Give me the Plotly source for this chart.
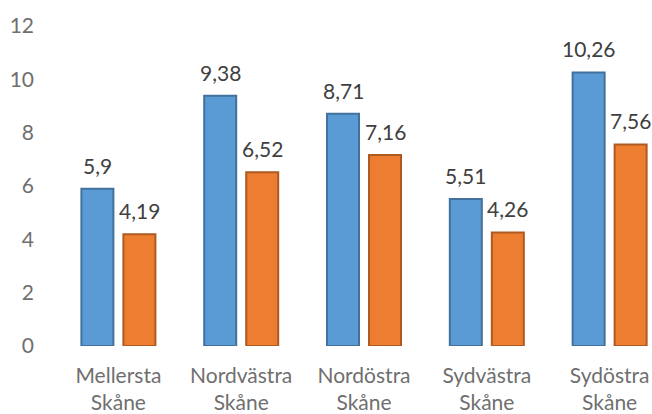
import plotly.graph_objects as go

# Regions and the two series of values
regions = ["Mellersta<br>Skåne", "Nordvästra<br>Skåne", "Nordöstra<br>Skåne",
           "Sydvästra<br>Skåne", "Sydöstra<br>Skåne"]
series_a = [5.9, 9.38, 8.71, 5.51, 10.26]
series_b = [4.19, 6.52, 7.16, 4.26, 7.56]
y_ticks = [0, 2, 4, 6, 8, 10, 12]


def fmt(v):
    # Swedish decimal comma
    return f"{v:g}".replace(".", ",")


font_family = "Lato, 'Open Sans', sans-serif"
label_font = dict(size=21, color="#404040", family=font_family)
axis_font = dict(size=21, color="#6f6f6f", family=font_family)

fig = go.Figure()
fig.add_trace(go.Bar(
    x=regions, y=series_a,
    marker=dict(color="#5B9BD5", line=dict(color="#41719C", width=2)),
))
fig.add_trace(go.Bar(
    x=regions, y=series_b,
    marker=dict(color="#ED7D31", line=dict(color="#AE5A21", width=2)),
))

# Value labels above each bar (shifted left/right onto the grouped bars)
for series, shift in ((series_a, -21), (series_b, 21)):
    for cat, val in zip(regions, series):
        fig.add_annotation(
            x=cat, y=val, text=fmt(val), showarrow=False,
            xanchor="center", yanchor="bottom", xshift=shift, yshift=9,
            font=label_font,
        )

fig.update_layout(
    width=652, height=414,
    margin=dict(l=57, r=0, t=26, b=68),
    paper_bgcolor="white", plot_bgcolor="white",
    barmode="group", bargap=0.316, bargroupgap=0.238,
    showlegend=False,
    font=axis_font,
)
fig.update_xaxes(
    range=[-0.5, 4.345], showgrid=False, showline=False, zeroline=False,
    ticks="", tickfont=axis_font, ticklabelstandoff=15,
)
fig.update_yaxes(
    range=[0, 12], tickvals=y_ticks, showgrid=False, showline=False,
    zeroline=False, ticks="", ticklabelstandoff=22,
    tickfont=axis_font,
)

fig.write_html("out.html")
